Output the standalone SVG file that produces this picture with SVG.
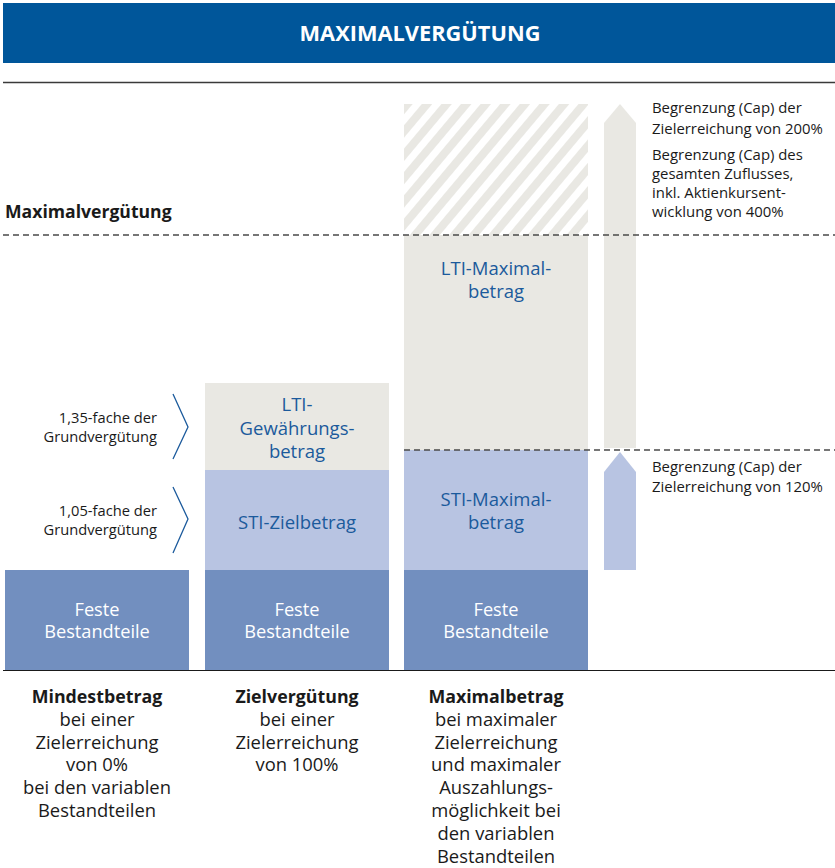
<svg xmlns="http://www.w3.org/2000/svg" width="835" height="868" viewBox="0 0 835 868">
<style>
text{font-family:"Open Sans","Noto Sans","Liberation Sans",sans-serif}
.t{font-size:14.9px;fill:#1a1a1a}
.sm{font-size:14.7px;fill:#1a1a1a}
.blue{font-size:18.5px;fill:#1b5a9c;text-anchor:middle}
.wh{font-size:18.2px;fill:#ffffff;text-anchor:middle}
.bt{font-size:18.4px;fill:#1a1a1a;text-anchor:middle}
.b{font-weight:bold;font-size:17.8px}
.gray{fill:#e9e8e3}
.lb{fill:#b8c4e2}
.mb{fill:#728fbf}
.dash{stroke:#4a4a4a;stroke-width:1.3;stroke-dasharray:6 4;fill:none}
.chev{stroke:#1b5a9c;stroke-width:1.3;fill:none}
</style>
<defs>
<pattern id="hatch" width="15" height="15" patternUnits="userSpaceOnUse" patternTransform="rotate(40)">
<rect width="15" height="15" fill="#ffffff"/>
<rect width="8" height="15" fill="#e9e8e3"/>
</pattern>
</defs>
<g id="header">
<rect x="3" y="3" width="832" height="60" fill="#00569a"/>
<text x="420" y="41" font-size="21.8" font-weight="bold" fill="#ffffff" text-anchor="middle">MAXIMALVERGÜTUNG</text>
</g>
<line x1="3" y1="82.5" x2="835" y2="82.5" stroke="#3a3a3a" stroke-width="1.6"/>
<g id="col1">
<rect class="mb" x="5" y="570" width="184" height="100"/>
<text class="wh" x="97" y="615.5">Feste</text>
<text class="wh" x="97" y="638">Bestandteile</text>
</g>
<g id="col2">
<rect class="gray" x="205" y="383" width="184" height="87"/>
<rect class="lb" x="205" y="470" width="184" height="100"/>
<rect class="mb" x="205" y="570" width="184" height="100"/>
<text class="blue" x="297" y="411">LTI-</text>
<text class="blue" x="297" y="434.5">Gewährungs-</text>
<text class="blue" x="297" y="458">betrag</text>
<text class="blue" x="297" y="529">STI-Zielbetrag</text>
<text class="wh" x="297" y="615.5">Feste</text>
<text class="wh" x="297" y="638">Bestandteile</text>
</g>
<g id="col3">
<rect x="404" y="104" width="184" height="131" fill="url(#hatch)"/>
<rect class="gray" x="404" y="235" width="184" height="215"/>
<rect class="lb" x="404" y="450" width="184" height="120"/>
<rect class="mb" x="404" y="570" width="184" height="100"/>
<text class="blue" x="496" y="275">LTI-Maximal-</text>
<text class="blue" x="496" y="298">betrag</text>
<text class="blue" x="496" y="506">STI-Maximal-</text>
<text class="blue" x="496" y="529">betrag</text>
<text class="wh" x="496" y="615.5">Feste</text>
<text class="wh" x="496" y="638">Bestandteile</text>
</g>
<g id="arrows">
<polygon class="gray" points="604,448 604,123 620,104 636,123 636,448"/>
<polygon class="lb" points="604,570 604,472 620,452 636,472 636,570"/>
</g>
<g id="connectors">
<line class="dash" x1="3" y1="235" x2="835" y2="235"/>
<line class="dash" x1="404" y1="450" x2="835" y2="450"/>
<polyline class="chev" points="173,394 188,427 173,459"/>
<polyline class="chev" points="173,487 188,519 173,553"/>
</g>
<line x1="3" y1="670.5" x2="835" y2="670.5" stroke="#1a1a1a" stroke-width="1.2"/>
<g id="labels">
<text x="5" y="218" font-size="17.6" font-weight="bold" fill="#1a1a1a">Maximalvergütung</text>
<text class="sm" x="157" y="423" text-anchor="end">1,35-fache der</text>
<text class="sm" x="157" y="442" text-anchor="end">Grundvergütung</text>
<text class="sm" x="157" y="516" text-anchor="end">1,05-fache der</text>
<text class="sm" x="157" y="535" text-anchor="end">Grundvergütung</text>
<text class="t" x="652" y="113">Begrenzung (Cap) der</text>
<text class="t" x="652" y="134">Zielerreichung von 200%</text>
<text class="t" x="652" y="160">Begrenzung (Cap) des</text>
<text class="t" x="652" y="179">gesamten Zuflusses,</text>
<text class="t" x="652" y="198">inkl. Aktienkursent-</text>
<text class="t" x="652" y="217">wicklung von 400%</text>
<text class="t" x="652" y="472">Begrenzung (Cap) der</text>
<text class="t" x="652" y="492">Zielerreichung von 120%</text>
</g>
<g id="captions">
<text class="bt b" x="97" y="703">Mindestbetrag</text>
<text class="bt" x="97" y="725.8">bei einer</text>
<text class="bt" x="97" y="748.6">Zielerreichung</text>
<text class="bt" x="97" y="771.4">von 0%</text>
<text class="bt" x="97" y="794.2">bei den variablen</text>
<text class="bt" x="97" y="817">Bestandteilen</text>
<text class="bt b" x="297" y="703">Zielvergütung</text>
<text class="bt" x="297" y="725.8">bei einer</text>
<text class="bt" x="297" y="748.6">Zielerreichung</text>
<text class="bt" x="297" y="771.4">von 100%</text>
<text class="bt b" x="496" y="703">Maximalbetrag</text>
<text class="bt" x="496" y="725.8">bei maximaler</text>
<text class="bt" x="496" y="748.6">Zielerreichung</text>
<text class="bt" x="496" y="771.4">und maximaler</text>
<text class="bt" x="496" y="794.2">Auszahlungs-</text>
<text class="bt" x="496" y="817">möglichkeit bei</text>
<text class="bt" x="496" y="839.8">den variablen</text>
<text class="bt" x="496" y="862.6">Bestandteilen</text>
</g>
</svg>
